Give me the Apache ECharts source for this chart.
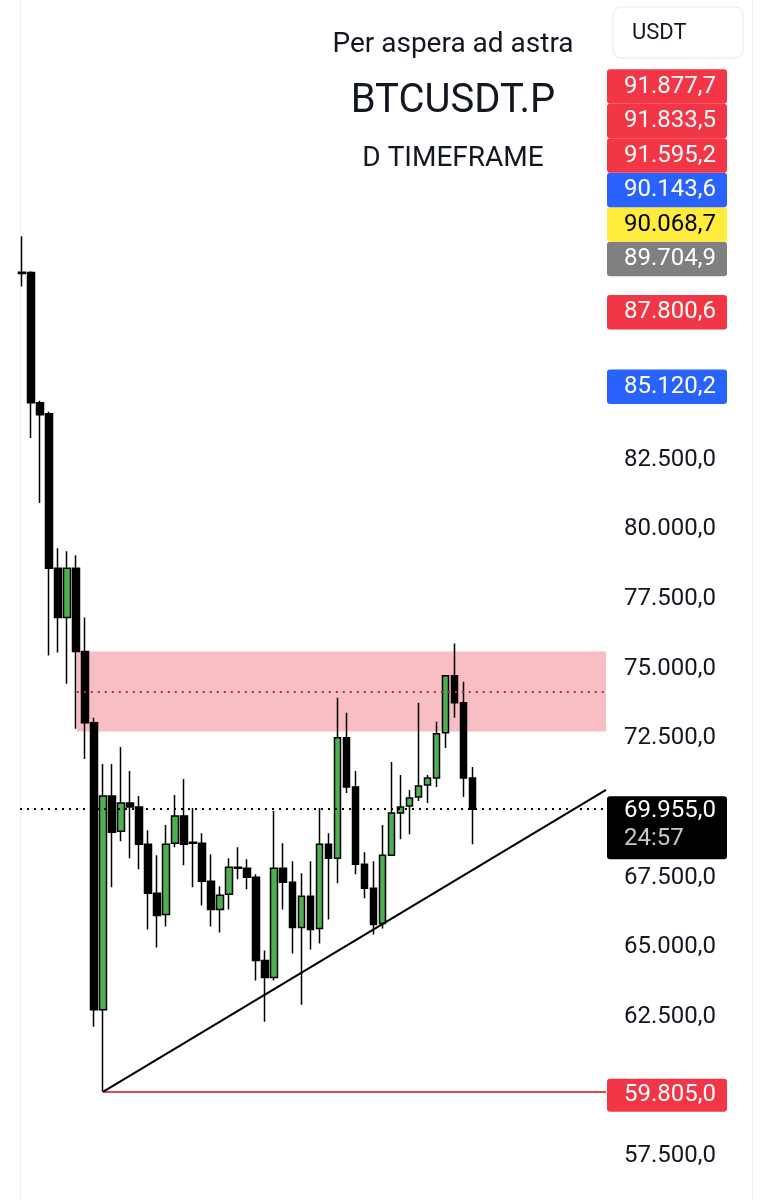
<!DOCTYPE html>
<html lang="en">
<head>
    <meta charset="UTF-8">
    <title>BTCUSDT.P</title>
    <script src="https://cdn.jsdelivr.net/npm/echarts@6/dist/echarts.min.js"></script>
    <style>
        html, body { margin: 0; padding: 0; background: #fff; }
        #main { width: 772px; height: 1200px; }
    </style>
</head>
<body>
<div id="main"></div>
<script>
    // daily candles
    var opens  = [89230, 89228, 84545, 84149, 78602, 76837, 78602, 75612, 73055, 62753,
                  70425, 69165, 70173, 70029, 68697, 66931, 66175, 68733, 69705, 68769,
                  68733, 67364, 66355, 66895, 67868, 67832, 67508, 64518, 63906, 67832,
                  67328, 65707, 66823, 65671, 68697, 68192, 72515, 70750, 67976, 67112,
                  65851, 68300, 69813, 70065, 70389, 70822, 71074, 72695, 74748, 73775, 71074];
    var closes = [89192, 84545, 84113, 78602, 76837, 78602, 75612, 73055, 62753, 70425,
                  69129, 70173, 70029, 68697, 66931, 66139, 68697, 69705, 68697, 68733,
                  67364, 66355, 66860, 67868, 67832, 67508, 64518, 63906, 67832, 67328,
                  65707, 66823, 65635, 68697, 68192, 72515, 70750, 67976, 67112, 65815,
                  68300, 69813, 70029, 70353, 70786, 71074, 72659, 74748, 73775, 71074, 69955];
    var lows   = [88724, 83285, 80943, 75468, 75576, 74460, 72839, 71758, 62141, 59805,
                  67148, 68804, 68192, 67796, 65635, 64986, 65743, 68588, 67940, 67148,
                  66499, 65743, 65527, 66355, 67436, 67076, 63798, 62321, 63798, 66355,
                  64770, 62933, 64914, 65131, 65995, 67292, 70533, 67616, 66751, 65455,
                  65671, 68300, 68877, 69057, 70245, 70173, 70750, 72154, 73235, 70389, 68697];
    var highs  = [90525, 89264, 84617, 84221, 79322, 79214, 79070, 76837, 73235, 71578,
                  71578, 72190, 71326, 70425, 69201, 68300, 69381, 70461, 71038, 69993,
                  69093, 68336, 67184, 68192, 68588, 68156, 67616, 64878, 69885, 68733,
                  68084, 67652, 68084, 69993, 69093, 73955, 73415, 71326, 68408, 68084,
                  69381, 71650, 71182, 70642, 73775, 71182, 73091, 74748, 75901, 74532, 71470];

    var lastPrice = 69955;
    var timer = '24:57';
    var yTicks = [57500, 62500, 65000, 67500, 72500, 75000, 77500, 80000, 82500];

    // supply zone and drawings (bar index, price)
    var zoneFrom = [6.1, 75614];
    var zoneTo = [64.8, 72741];
    var zoneMid = 74177;
    var trendFrom = [9, 59805];
    var trendTo = [64.8, 70650];
    var lowLine = 59805;

    // price scale tags
    var tagValues = [91877.7, 91833.5, 91595.2, 90143.6, 90068.7, 89704.9, 87800.6, 85120.2];
    var tagColors = ['#f23645', '#f23645', '#f23645', '#2962ff', '#ffeb3b', '#808080', '#f23645', '#2962ff'];
    var tagText = ['#fff', '#fff', '#fff', '#fff', '#000', '#fff', '#fff', '#fff'];

    function fmt(v) {
        var s = v.toFixed(1).split('.');
        return s[0].replace(/\B(?=(\d{3})+(?!\d))/g, '.') + ',' + s[1];
    }

    var candles = [];
    for (var i = 0; i < opens.length; i++) {
        candles.push([i, opens[i], closes[i], lows[i], highs[i]]);
    }

    var font = 'Roboto';
    var myChart = echarts.init(document.getElementById('main'));

    myChart.setOption({
        animation: false,
        backgroundColor: '#fff',
        grid: {left: 20, right: 166, top: 42, bottom: 44},
        xAxis: {
            type: 'value', min: -0.2, max: 64.8,
            axisLine: {show: false}, axisTick: {show: false},
            axisLabel: {show: false}, splitLine: {show: false}
        },
        yAxis: {
            type: 'value', position: 'right', min: 57500, max: 97500, interval: 2500,
            axisLine: {show: false}, axisTick: {show: false}, splitLine: {show: false},
            axisLabel: {
                margin: 18, color: '#131722', fontFamily: font, fontSize: 24,
                formatter: function (v) {
                    return yTicks.indexOf(v) >= 0 ? fmt(v) : '';
                }
            }
        },
        series: [{
            type: 'candlestick',
            data: candles,
            barWidth: 7,
            itemStyle: {
                color: '#4caf50', color0: '#000',
                borderColor: '#000', borderColor0: '#000', borderWidth: 1.5
            },
            markArea: {
                silent: true,
                itemStyle: {color: 'rgba(248,178,186,0.85)'},
                data: [[{coord: zoneFrom}, {coord: zoneTo}]]
            },
            markLine: {
                silent: true,
                symbol: 'none',
                label: {show: false},
                data: [
                    [{coord: [zoneFrom[0], zoneMid], lineStyle: {color: '#a8323e', type: [2, 5], width: 2}},
                        {coord: [zoneTo[0], zoneMid]}],
                    {yAxis: lastPrice, lineStyle: {color: '#000', type: [2, 5], width: 2}},
                    [{coord: [trendFrom[0], lowLine], lineStyle: {color: '#e04858', type: 'solid', width: 2}},
                        {coord: [zoneTo[0], lowLine]}],
                    [{coord: trendFrom, lineStyle: {color: '#000', type: 'solid', width: 2}},
                        {coord: trendTo}]
                ]
            }
        }]
    });

    // tags on the price scale, pushed upward when they overlap
    var tagX = 607, tagW = 120, tagH = 34.5;
    var graphics = [];
    var order = tagValues.map(function (v, k) { return k; }).sort(function (a, b) {
        return tagValues[a] - tagValues[b];
    });
    var prevY = 1e9;
    var placed = [];
    order.forEach(function (k) {
        var y = myChart.convertToPixel({yAxisIndex: 0}, tagValues[k]);
        y = Math.min(y, prevY - tagH);
        prevY = y;
        placed.push({k: k, y: y});
    });
    placed.forEach(function (p) {
        graphics.push({
            type: 'rect', shape: {x: tagX, y: p.y - tagH / 2, width: tagW, height: tagH, r: 3},
            style: {fill: tagColors[p.k]}
        });
        graphics.push({
            type: 'text', x: 624, y: p.y,
            style: {text: fmt(tagValues[p.k]), fill: tagText[p.k], font: '24px ' + font,
                textVerticalAlign: 'middle', verticalAlign: 'middle'}
        });
    });

    // last price tag with countdown
    var py = myChart.convertToPixel({yAxisIndex: 0}, lastPrice);
    graphics.push({
        type: 'rect', shape: {x: tagX, y: py - 13, width: tagW, height: 63, r: 3},
        style: {fill: '#000'}
    });
    graphics.push({
        type: 'text', x: 624, y: py + 2,
        style: {text: fmt(lastPrice), fill: '#fff', font: '24px ' + font,
            textVerticalAlign: 'middle', verticalAlign: 'middle'}
    });
    graphics.push({
        type: 'text', x: 624, y: py + 30,
        style: {text: timer, fill: '#c8c8c8', font: '24px ' + font,
            textVerticalAlign: 'middle', verticalAlign: 'middle'}
    });

    // low line tag
    var ly = myChart.convertToPixel({yAxisIndex: 0}, lowLine);
    graphics.push({
        type: 'rect', shape: {x: tagX, y: ly - 13, width: tagW, height: 33, r: 3},
        style: {fill: '#f23645'}
    });
    graphics.push({
        type: 'text', x: 624, y: ly + 3,
        style: {text: fmt(lowLine), fill: '#fff', font: '24px ' + font,
            textVerticalAlign: 'middle', verticalAlign: 'middle'}
    });

    // titles, currency box, panel borders
    var titles = [['Per aspera ad astra', 45, 28], ['BTCUSDT.P', 102, 40], ['D TIMEFRAME', 159, 28]];
    titles.forEach(function (t) {
        graphics.push({
            type: 'text', x: 453, y: t[1],
            style: {text: t[0], fill: '#131722', font: t[2] + 'px ' + font,
                textAlign: 'center', align: 'center', textVerticalAlign: 'middle', verticalAlign: 'middle'}
        });
    });
    graphics.push({
        type: 'rect', shape: {x: 613, y: 7, width: 130, height: 51, r: 8},
        style: {fill: '#fff', stroke: '#e6e8ee', lineWidth: 1}
    });
    graphics.push({
        type: 'text', x: 632, y: 33,
        style: {text: 'USDT', fill: '#131722', font: '22px ' + font,
            textVerticalAlign: 'middle', verticalAlign: 'middle'}
    });
    graphics.push({type: 'line', shape: {x1: 752.5, y1: 0, x2: 752.5, y2: 1200}, style: {stroke: '#ececec', lineWidth: 1}});
    graphics.push({type: 'line', shape: {x1: 20.5, y1: 0, x2: 20.5, y2: 1200}, style: {stroke: '#f2f2f2', lineWidth: 1}});

    myChart.setOption({graphic: graphics});
</script>
</body>
</html>
